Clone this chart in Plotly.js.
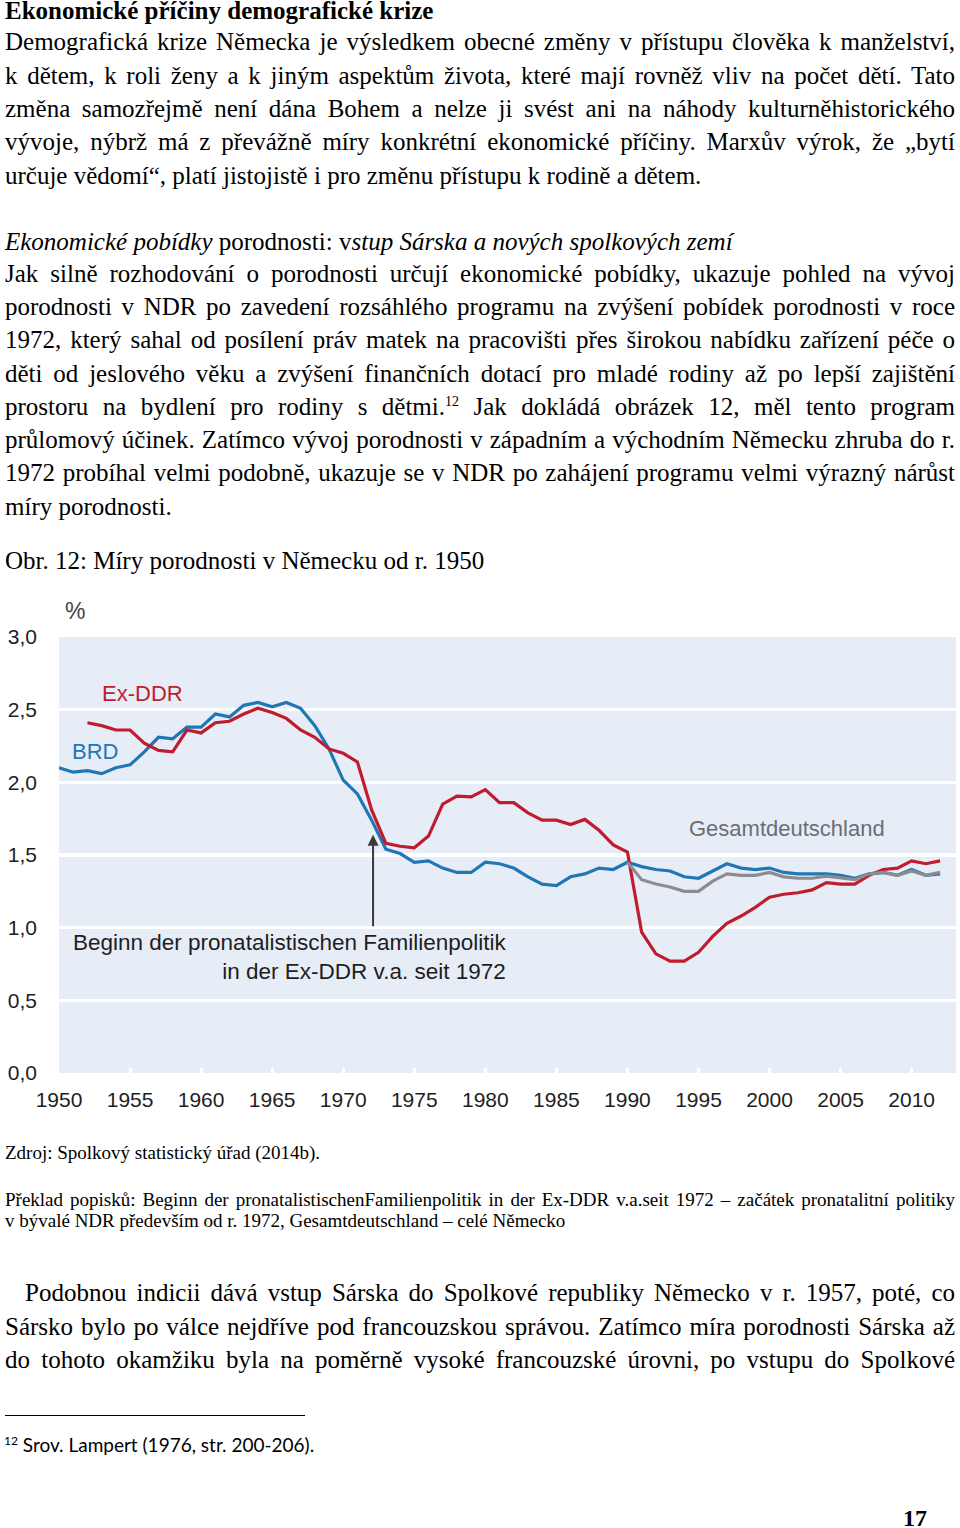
<!DOCTYPE html>
<html>
<head>
<meta charset="utf-8">
<script src="https://cdn.plot.ly/plotly-3.0.1.min.js"></script>
<style>
  html, body { margin:0; padding:0; background:#fff; }
  body { width:960px; height:1528px; position:relative; overflow:hidden; }
  .t { position:absolute; left:5px; width:950px; font-family:"Liberation Serif","Times New Roman",serif;
       font-size:25px; line-height:26px; color:#000; white-space:normal; }
  .j { text-align:justify; text-align-last:justify; }
  .l { text-align:left; }
  .s { font-size:19px; line-height:20px; }
  sup { font-size:14px; line-height:0; vertical-align:9px; }
  #chart { position:absolute; left:0; top:590px; width:960px; height:530px; }
</style>
</head>
<body>
<div class="t l" style="top:-2px;font-weight:bold;">Ekonomické příčiny demografické krize</div>
<div class="t j" style="top:29px;">Demografická krize Německa je výsledkem obecné změny v přístupu člověka k manželství,</div>
<div class="t j" style="top:63px;">k dětem, k roli ženy a k jiným aspektům života, které mají rovněž vliv na počet dětí. Tato</div>
<div class="t j" style="top:96px;">změna samozřejmě není dána Bohem a nelze ji svést ani na náhody kulturněhistorického</div>
<div class="t j" style="top:129px;">vývoje, nýbrž má z převážně míry konkrétní ekonomické příčiny. Marxův výrok, že „bytí</div>
<div class="t l" style="top:163px;">určuje vědomí“, platí jistojistě i pro změnu přístupu k rodině a dětem.</div>

<div class="t l" style="top:229px;"><i>Ekonomické pobídky</i> porodnosti: v<i>stup Sárska a nových spolkových zemí</i></div>
<div class="t j" style="top:261px;">Jak silně rozhodování o porodnosti určují ekonomické pobídky, ukazuje pohled na vývoj</div>
<div class="t j" style="top:294px;">porodnosti v NDR po zavedení rozsáhlého programu na zvýšení pobídek porodnosti v roce</div>
<div class="t j" style="top:327px;">1972, který sahal od posílení práv matek na pracovišti přes širokou nabídku zařízení péče o</div>
<div class="t j" style="top:361px;">děti od jeslového věku a zvýšení finančních dotací pro mladé rodiny až po lepší zajištění</div>
<div class="t j" style="top:394px;">prostoru na bydlení pro rodiny s dětmi.<sup>12</sup> Jak dokládá obrázek 12, měl tento program</div>
<div class="t j" style="top:427px;">průlomový účinek. Zatímco vývoj porodnosti v západním a východním Německu zhruba do r.</div>
<div class="t j" style="top:460px;">1972 probíhal velmi podobně, ukazuje se v NDR po zahájení programu velmi výrazný nárůst</div>
<div class="t l" style="top:494px;">míry porodnosti.</div>
<div class="t l" style="top:548px;">Obr. 12: Míry porodnosti v Německu od r. 1950</div>

<div id="chart"></div>

<div class="t l s" style="top:1143px;">Zdroj: Spolkový statistický úřad (2014b).</div>
<div class="t j s" style="top:1190px;">Překlad popisků: Beginn der pronatalistischenFamilienpolitik in der Ex-DDR v.a.seit 1972 – začátek pronatalitní politiky</div>
<div class="t l s" style="top:1211px;">v bývalé NDR především od r. 1972, Gesamtdeutschland – celé Německo</div>

<div class="t j" style="top:1280px;left:25px;width:930px;">Podobnou indicii dává vstup Sárska do Spolkové republiky Německo v r. 1957, poté, co</div>
<div class="t j" style="top:1314px;">Sársko bylo po válce nejdříve pod francouzskou správou. Zatímco míra porodnosti Sárska až</div>
<div class="t j" style="top:1347px;">do tohoto okamžiku byla na poměrně vysoké francouzské úrovni, po vstupu do Spolkové</div>

<div style="position:absolute;left:5px;top:1415px;width:300px;height:1px;background:#000;"></div>
<div style="position:absolute;left:4px;top:1430px;font-family:Lato,'Open Sans',sans-serif;font-size:19px;line-height:22px;color:#000;white-space:nowrap;"><span style="font-size:12px;vertical-align:7px;">12</span> Srov. Lampert (1976, str. 200-206).</div>
<div style="position:absolute;left:903px;top:1504px;font-family:'Liberation Serif',serif;font-weight:bold;font-size:24px;line-height:28px;">17</div>

<script>
// keep every text line on one line (shrink slightly if it would wrap)
document.querySelectorAll('.t').forEach(function (el) {
  var fs = parseFloat(getComputedStyle(el).fontSize);
  var lh = parseFloat(getComputedStyle(el).lineHeight);
  var guard = 0;
  while (el.scrollHeight > lh * 1.5 && guard < 40) {
    fs -= 0.25; el.style.fontSize = fs + 'px'; guard++;
  }
});

const years = [1950,1951,1952,1953,1954,1955,1956,1957,1958,1959,
               1960,1961,1962,1963,1964,1965,1966,1967,1968,1969,
               1970,1971,1972,1973,1974,1975,1976,1977,1978,1979,
               1980,1981,1982,1983,1984,1985,1986,1987,1988,1989,
               1990,1991,1992,1993,1994,1995,1996,1997,1998,1999,
               2000,2001,2002,2003,2004,2005,2006,2007,2008,2009,
               2010,2011,2012];

const brd = [2.10,2.07,2.08,2.06,2.10,2.12,2.21,2.31,2.30,2.38,
             2.38,2.47,2.45,2.53,2.55,2.52,2.55,2.51,2.39,2.23,
             2.015,1.92,1.74,1.54,1.51,1.45,1.46,1.41,1.38,1.38,
             1.45,1.44,1.41,1.35,1.30,1.29,1.35,1.37,1.41,1.40,
             1.45,1.42,1.40,1.39,1.35,1.34,1.39,1.44,1.41,1.40,
             1.41,1.38,1.37,1.37,1.37,1.36,1.34,1.37,1.38,1.36,
             1.40,1.36,1.37];

const exDdr = [null,null,2.41,2.39,2.36,2.36,2.27,2.22,2.21,2.36,
               2.34,2.41,2.42,2.47,2.51,2.48,2.44,2.36,2.31,2.23,
               2.20,2.14,1.81,1.58,1.56,1.55,1.63,1.85,1.905,1.90,
               1.95,1.86,1.86,1.79,1.74,1.74,1.71,1.745,1.67,1.57,
               1.52,0.97,0.82,0.77,0.77,0.83,0.94,1.03,1.08,1.14,
               1.21,1.23,1.24,1.26,1.31,1.30,1.30,1.36,1.40,1.41,
               1.46,1.44,1.46];

const gesamt = [null,null,null,null,null,null,null,null,null,null,
                null,null,null,null,null,null,null,null,null,null,
                null,null,null,null,null,null,null,null,null,null,
                null,null,null,null,null,null,null,null,null,null,
                1.45,1.33,1.30,1.28,1.25,1.25,1.32,1.37,1.36,1.36,
                1.38,1.35,1.34,1.34,1.355,1.34,1.33,1.37,1.38,1.36,
                1.39,1.36,1.38];

const xTickVals = [1950,1955,1960,1965,1970,1975,1980,1985,1990,1995,2000,2005,2010];
const xTickText = ['1950','1955','1960','1965','1970','1975','1980','1985','1990','1995','2000','2005','2010'];
const yTickVals = [0,0.5,1,1.5,2,2.5,3];
const yTickText = ['0,0','0,5','1,0','1,5','2,0','2,5','3,0'];

const seriesNames = ['BRD','Ex-DDR','Gesamtdeutschland'];
const colBlue = '#2176b6', colRed = '#c01b2e', colGray = '#8c8c8e';

const traces = [
  {x:years, y:brd, name:seriesNames[0], mode:'lines', line:{color:colBlue, width:3.2}, connectgaps:false},
  {x:years, y:exDdr, name:seriesNames[1], mode:'lines', line:{color:colRed, width:3.2}, connectgaps:false},
  {x:years, y:gesamt, name:seriesNames[2], mode:'lines', line:{color:colGray, width:3.2}, connectgaps:false}
];

const layout = {
  width:960, height:530,
  margin:{l:59, r:4, t:47, b:47},
  paper_bgcolor:'rgba(0,0,0,0)',
  plot_bgcolor:'#e7edf6',
  showlegend:false,
  font:{family:'"Liberation Sans", Arial, sans-serif', size:21, color:'#1e1e1e'},
  xaxis:{range:[1950,2013.12], tickvals:xTickVals, ticktext:xTickText,
         ticks:'inside', ticklen:5, tickwidth:3, tickcolor:'#ffffff',
         showgrid:false, zeroline:false, showline:false, ticklabelstandoff:12},
  yaxis:{range:[0,3], tickvals:yTickVals, ticktext:yTickText,
         ticks:'', showgrid:true, gridcolor:'#ffffff', gridwidth:3.5,
         zeroline:false, showline:false, ticklabelstandoff:21},
  annotations:[
    {x:0.0178, y:1.0596, xref:'paper', yref:'paper', xanchor:'center', yanchor:'middle',
     text:'%', showarrow:false, font:{size:23, color:'#444'}},
    {x:1955.87, y:2.61, xref:'x', yref:'y', text:'Ex-DDR', showarrow:false,
     font:{size:22, color:colRed}},
    {x:1952.55, y:2.21, xref:'x', yref:'y', text:'BRD', showarrow:false,
     font:{size:22, color:colBlue}},
    {x:2001.26, y:1.68, xref:'x', yref:'y', text:'Gesamtdeutschland', showarrow:false,
     font:{size:22, color:'#6b6e73'}},
    {x:1981.63, y:0.80, xref:'x', yref:'y', xanchor:'right', yanchor:'middle', align:'right',
     text:'Beginn der pronatalistischen Familienpolitik<br>in der Ex-DDR v.a. seit 1972',
     showarrow:false, font:{size:22.5, color:'#1e1e1e'}},
    {x:1972.1, y:1.64, xref:'x', yref:'y', ax:1972.1, ay:1.0, axref:'x', ayref:'y',
     text:'', showarrow:true, arrowhead:2, arrowsize:1.1, arrowwidth:2, arrowcolor:'#3a3a3a'}
  ]
};

Plotly.newPlot('chart', traces, layout, {displayModeBar:false, staticPlot:true});
</script>
</body>
</html>
